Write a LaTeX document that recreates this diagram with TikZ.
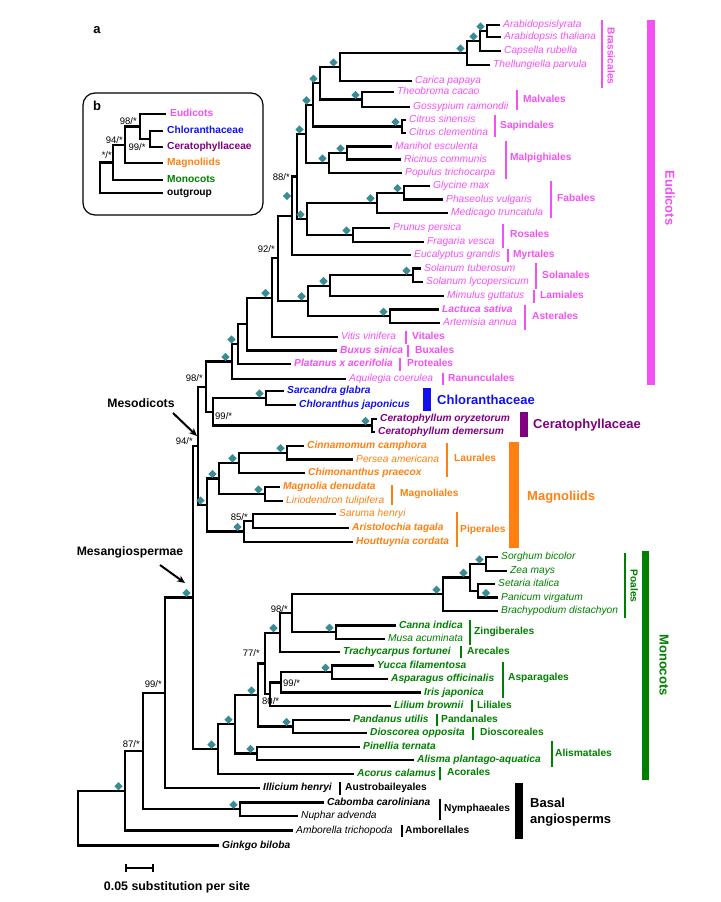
\documentclass[tikz,border=0pt]{standalone}
\usepackage{fontspec}
\setmainfont{Liberation Sans}
\usetikzlibrary{shapes.geometric,arrows.meta}
\definecolor{eud}{RGB}{245,80,245}
\definecolor{chl}{RGB}{16,16,240}
\definecolor{cer}{RGB}{128,0,128}
\definecolor{mag}{RGB}{255,128,16}
\definecolor{mon}{RGB}{0,128,0}
\definecolor{teal2}{RGB}{58,140,148}
\newcommand\mkleaf[6]{\coordinate (#1) at (#2,#3);\node[#4,text=#5] (#1t) at (#1) {#6};}
\newcommand\mkclade[5]{\coordinate (#1) at (#2,#3);\draw[br] (#4) -| (#1) |- (#5);}
\newcommand\mkorder[8]{\draw[obar,#7] (#2,#3) coordinate (#1a) -- (#2,#4) coordinate (#1b);\node[ordl,text=#7] (#1) at (#5,#6) {#8};}
\newcommand\mkdia[1]{\node[dia] (d#1) at ([shift={(-6.5,-4.5)}]#1) {};}
\begin{document}
\begin{tikzpicture}[x=1pt,y=-1pt,
  br/.style={line width=2.2pt},
  sp/.style={anchor=west,inner sep=0pt,xshift=3pt,text height=7pt,text depth=2pt,font=\fontsize{10.2}{12}\selectfont\itshape},
  spb/.style={sp,font=\fontsize{10.2}{12}\selectfont\bfseries\itshape},
  ordl/.style={anchor=west,inner sep=0pt,text height=7pt,text depth=2pt,font=\fontsize{10.2}{12}\selectfont\bfseries},
  obar/.style={line width=2.6pt},
  gbar/.style={line width=8pt},
  big/.style={anchor=west,inner sep=0pt,font=\fontsize{13}{15.5}\selectfont\bfseries},
  bs/.style={inner sep=0pt,font=\fontsize{9.5}{11}\selectfont},
  dia/.style={diamond,fill=teal2,minimum size=8.5pt,inner sep=0pt},
  inl/.style={anchor=west,inner sep=0pt,xshift=4pt,text height=7pt,text depth=2pt,font=\fontsize{10.2}{12}\selectfont\bfseries},
  arr/.style={line width=2pt,-{Stealth[length=8pt,width=7pt]}}
]
\useasboundingbox (0,0) rectangle (720,902);
% ---------- leaves ----------
\mkleaf{L1}{500}{25}{sp}{eud}{Arabidopsislyrata}
\mkleaf{L2}{501}{37}{sp}{eud}{Arabidopsis thaliana}
\mkleaf{L3}{501}{51}{sp}{eud}{Capsella rubella}
\mkleaf{L4}{490}{65}{sp}{eud}{Thellungiella parvula}
\mkleaf{L5}{412}{81}{sp}{eud}{Carica papaya}
\mkleaf{L6}{394}{92}{sp}{eud}{Theobroma cacao}
\mkleaf{L7}{410}{107}{sp}{eud}{Gossypium raimondii}
\mkleaf{L8}{406}{120}{sp}{eud}{Citrus sinensis}
\mkleaf{L9}{406}{133}{sp}{eud}{Citrus clementina}
\mkleaf{L10}{392}{146.5}{sp}{eud}{Manihot esculenta}
\mkleaf{L11}{401}{159.5}{sp}{eud}{Ricinus communis}
\mkleaf{L12}{402}{173}{sp}{eud}{Populus trichocarpa}
\mkleaf{L13}{430}{186}{sp}{eud}{Glycine max}
\mkleaf{L14}{443}{199.5}{sp}{eud}{Phaseolus vulgaris}
\mkleaf{L15}{448}{213}{sp}{eud}{Medicago truncatula}
\mkleaf{L16}{390}{228}{sp}{eud}{Prunus persica}
\mkleaf{L17}{424}{242}{sp}{eud}{Fragaria vesca}
\mkleaf{L18}{411}{255}{sp}{eud}{Eucalyptus grandis}
\mkleaf{L19}{421}{268.5}{sp}{eud}{Solanum tuberosum}
\mkleaf{L20}{423}{282}{sp}{eud}{Solanum lycopersicum}
\mkleaf{L21}{444}{296}{sp}{eud}{Mimulus guttatus}
\mkleaf{L22}{439}{309.5}{spb}{eud}{Lactuca sativa}
\mkleaf{L23}{440}{323}{sp}{eud}{Artemisia annua}
\mkleaf{L24}{338}{337}{sp}{eud}{Vitis vinifera}
\mkleaf{L25}{337}{350.5}{spb}{eud}{Buxus sinica}
\mkleaf{L26}{291}{364}{spb}{eud}{Platanus x acerifolia}
\mkleaf{L27}{346}{379}{sp}{eud}{Aquilegia coerulea}
\mkleaf{L28}{284}{391}{spb}{chl}{Sarcandra glabra}
\mkleaf{L29}{296}{405}{spb}{chl}{Chloranthus japonicus}
\mkleaf{L30}{377}{419}{spb}{cer}{Ceratophyllum oryzetorum}
\mkleaf{L31}{375}{432}{spb}{cer}{Ceratophyllum demersum}
\mkleaf{L32}{304}{446}{spb}{mag}{Cinnamomum camphora}
\mkleaf{L33}{353}{459.5}{sp}{mag}{Persea americana}
\mkleaf{L34}{305}{473}{spb}{mag}{Chimonanthus praecox}
\mkleaf{L35}{280}{487}{spb}{mag}{Magnolia denudata}
\mkleaf{L36}{283}{501}{sp}{mag}{Liriodendron tulipifera}
\mkleaf{L37}{336}{514}{sp}{mag}{Saruma henryi}
\mkleaf{L38}{349}{528}{spb}{mag}{Aristolochia tagala}
\mkleaf{L39}{353}{542}{spb}{mag}{Houttuynia cordata}
\mkleaf{L40}{498}{557}{sp}{mon}{Sorghum bicolor}
\mkleaf{L41}{507}{571}{sp}{mon}{Zea mays}
\mkleaf{L42}{495}{584}{sp}{mon}{Setaria italica}
\mkleaf{L43}{498}{597.5}{sp}{mon}{Panicum virgatum}
\mkleaf{L44}{498}{611}{sp}{mon}{Brachypodium distachyon}
\mkleaf{L45}{396}{625.5}{spb}{mon}{Canna indica}
\mkleaf{L46}{385}{639}{sp}{mon}{Musa acuminata}
\mkleaf{L47}{340}{652}{spb}{mon}{Trachycarpus fortunei}
\mkleaf{L48}{374}{665.5}{spb}{mon}{Yucca filamentosa}
\mkleaf{L49}{388}{679}{spb}{mon}{Asparagus officinalis}
\mkleaf{L50}{421}{692.5}{spb}{mon}{Iris japonica}
\mkleaf{L51}{391}{706}{spb}{mon}{Lilium brownii}
\mkleaf{L52}{350}{720}{spb}{mon}{Pandanus utilis}
\mkleaf{L53}{367}{733}{spb}{mon}{Dioscorea opposita}
\mkleaf{L54}{360}{747}{spb}{mon}{Pinellia ternata}
\mkleaf{L55}{414}{760}{spb}{mon}{Alisma plantago-aquatica}
\mkleaf{L56}{354}{774}{spb}{mon}{Acorus calamus}
\mkleaf{L57}{260}{788}{spb}{black}{Illicium henryi}
\mkleaf{L58}{324}{802.5}{spb}{black}{Cabomba caroliniana}
\mkleaf{L59}{298}{816}{sp}{black}{Nuphar advenda}
\mkleaf{L60}{293}{830.5}{sp}{black}{Amborella trichopoda}
\mkleaf{L61}{219}{845.5}{spb}{black}{Ginkgo biloba}
% ---------- clades ----------
\mkclade{AA}{487}{31}{L1}{L2}
\mkclade{Cap}{480}{41}{AA}{L3}
\mkclade{Bra}{467}{53}{Cap}{L4}
\mkclade{Brs}{340}{67}{Bra}{L5}
\mkclade{Mal}{362}{99.5}{L6}{L7}
\mkclade{BM}{320}{83.25}{Brs}{Mal}
\mkclade{Cit}{402}{126.5}{L8}{L9}
\mkclade{BMS}{313}{104.9}{BM}{Cit}
\mkclade{MR}{347}{153}{L10}{L11}
\mkclade{Mpg}{329}{163}{MR}{L12}
\mkclade{XA}{306}{133.95}{BMS}{Mpg}
\mkclade{GP}{404}{192.75}{L13}{L14}
\mkclade{Fab}{377}{202.9}{GP}{L15}
\mkclade{Ros}{353}{235}{L16}{L17}
\mkclade{fab}{307}{218.95}{Fab}{Ros}
\mkclade{RB}{297}{176.45}{XA}{fab}
\mkclade{RA}{292}{215.7}{RB}{L18}
\mkclade{Sol}{413}{275.25}{L19}{L20}
\mkclade{SM}{330}{285.6}{Sol}{L21}
\mkclade{Ast}{390}{316.25}{L22}{L23}
\mkclade{asr}{308}{300.9}{SM}{Ast}
\mkclade{core}{278}{258.3}{RA}{asr}
\mkclade{nNT}{272}{297.65}{core}{L24}
\mkclade{Bux}{247}{324.1}{nNT}{L25}
\mkclade{Pla}{238}{344.05}{Bux}{L26}
\mkclade{Eud}{232}{361.5}{Pla}{L27}
\mkclade{Chl}{266}{398}{L28}{L29}
\mkclade{Cer}{372}{425.5}{L30}{L31}
\mkclade{CC}{213}{411.75}{Chl}{Cer}
\mkclade{Meso}{206}{386.6}{Eud}{CC}
\mkclade{CP}{287}{452.75}{L32}{L33}
\mkclade{Lau}{239}{462.9}{CP}{L34}
\mkclade{Mag}{265}{494}{L35}{L36}
\mkclade{LM}{219}{478.45}{Lau}{Mag}
\mkclade{SA}{253}{521}{L37}{L38}
\mkclade{Pip}{244}{531.5}{SA}{L39}
\mkclade{Mgn}{207}{505}{LM}{Pip}
\mkclade{MM}{198}{445.8}{Meso}{Mgn}
\mkclade{SZ}{486}{564}{L40}{L41}
\mkclade{SP}{478}{590.75}{L42}{L43}
\mkclade{Pa}{470}{577.4}{SZ}{SP}
\mkclade{Poa}{443}{594.2}{Pa}{L44}
\mkclade{Zin}{336}{632.25}{L45}{L46}
\mkclade{PZ}{292}{613.2}{Poa}{Zin}
\mkclade{com}{280}{632.6}{PZ}{L47}
\mkclade{YA}{332}{672.25}{L48}{L49}
\mkclade{Asp}{281}{682.4}{YA}{L50}
\mkclade{AL}{270}{694.2}{Asp}{L51}
\mkclade{nSS}{265}{663.4}{com}{AL}
\mkclade{PD}{293}{726.5}{L52}{L53}
\mkclade{nTF}{258}{694.95}{nSS}{PD}
\mkclade{Ali}{257}{753.5}{L54}{L55}
\mkclade{nTT}{235}{724.2}{nTF}{Ali}
\mkclade{Mon}{218}{749.1}{nTT}{L56}
\mkclade{Mes}{193}{597.45}{MM}{Mon}
\mkclade{nOS}{165}{692.7}{Mes}{L57}
\mkclade{Nym}{240}{809.25}{L58}{L59}
\mkclade{nOF}{143}{751}{nOS}{Nym}
\mkclade{nOT}{125}{790.75}{nOF}{L60}
\mkclade{root}{78}{818.1}{nOT}{L61}
% ---------- diamonds ----------
\foreach \n in {AA,Cap,Bra,Brs,BM,BMS,Mal,Cit,MR,Mpg,XA,GP,Fab,fab,Ros,Sol,SM,Ast,asr,nNT,Pla,Eud,Chl,Cer,CP,Lau,Mag,LM,Pip,Mgn,SZ,Pa,Poa,Zin,com,YA,PD,Ali,nTT,Mon,nTF,Mes,Nym,nOT}{\mkdia{\n}}
\node[dia] (dRA) at (287,196) {};
\node[dia] (dSP) at (486,593) {};
% ---------- bootstrap ----------
\node[bs,anchor=east] (b1) at (290,177) {88/*};
\node[bs,anchor=east] (b2) at (275,249) {92/*};
\node[bs,anchor=east] (b3) at (203,378) {98/*};
\node[bs,anchor=west] (b4) at (215,416) {99/*};
\node[bs,anchor=east] (b5) at (193,441) {94/*};
\node[bs,anchor=east] (b6) at (248,517) {85/*};
\node[bs,anchor=east] (b7) at (288,609) {98/*};
\node[bs,anchor=east] (b8) at (260,653) {77/*};
\node[bs,anchor=west] (b9) at (283,683) {99/*};
\node[bs,anchor=west] (b10) at (262,701) {80/*};
\node[bs,anchor=east] (b11) at (162,684) {99/*};
\node[bs,anchor=east] (b12) at (140,744) {87/*};
% ---------- orders ----------
\mkorder{oMalv}{517}{90}{110}{523}{100}{eud}{Malvales}
\mkorder{oSap}{495}{115}{137}{500}{126}{eud}{Sapindales}
\mkorder{oMalp}{506}{141}{179}{510}{158}{eud}{Malpighiales}
\mkorder{oFab}{551}{181}{218}{557}{199}{eud}{Fabales}
\mkorder{oRos}{503}{224}{248}{510}{235}{eud}{Rosales}
\mkorder{oMyr}{508}{249}{262}{513}{255}{eud}{Myrtales}
\mkorder{oSol}{536}{263}{289}{542}{276}{eud}{Solanales}
\mkorder{oLam}{534}{290}{303}{540}{296}{eud}{Lamiales}
\mkorder{oAst}{525}{305}{330}{532}{317}{eud}{Asterales}
\mkorder{oVit}{406}{331}{344}{412}{337}{eud}{Vitales}
\mkorder{oBux}{408}{345}{357}{415}{351}{eud}{Buxales}
\mkorder{oPro}{400}{358}{371}{407}{364}{eud}{Proteales}
\mkorder{oRan}{443}{373}{385}{448}{379}{eud}{Ranunculales}
\mkorder{oLau}{447}{443}{477}{454}{459}{mag}{Laurales}
\mkorder{oMag}{392}{485}{505}{400}{494}{mag}{Magnoliales}
\mkorder{oPip}{457}{512}{547}{460}{530}{mag}{Piperales}
\mkorder{oZin}{470}{620}{645}{474}{632}{mon}{Zingiberales}
\mkorder{oAre}{461}{646}{658}{467}{652}{mon}{Arecales}
\mkorder{oAsp}{503}{662}{698}{508}{678}{mon}{Asparagales}
\mkorder{oLil}{472}{700}{712}{477}{706}{mon}{Liliales}
\mkorder{oPan}{437}{714}{726}{441}{720}{mon}{Pandanales}
\mkorder{oDio}{473}{727}{740}{480}{733}{mon}{Dioscoreales}
\mkorder{oAli}{552}{741}{767}{555}{754}{mon}{Alismatales}
\mkorder{oAco}{440}{767}{780}{447}{773}{mon}{Acorales}
\mkorder{oAus}{340}{782}{795}{345}{788}{black}{Austrobaileyales}
\mkorder{oNym}{440}{799}{820}{444}{809}{black}{Nymphaeales}
\mkorder{oAmb}{402}{825}{837}{405}{831}{black}{Amborellales}
\draw[obar,eud] (602,20) coordinate (oBraa) -- (602,88) coordinate (oBrab);
\node[ordl,text=eud,rotate=-90,anchor=center] (oBra) at (610,56) {Brassicales};
\draw[obar,mon] (625,553) coordinate (oPoaa) -- (625,618) coordinate (oPoab);
\node[ordl,text=mon,rotate=-90,anchor=center] (oPoa) at (633,586) {Poales};
% ---------- groups ----------
\draw[gbar,eud] (651,20) coordinate (gEa) -- (651,385) coordinate (gEb);
\node[big,text=eud,rotate=-90,anchor=center] (gE) at (670,198) {Eudicots};
\draw[gbar,chl] (427,388) coordinate (gCa) -- (427,411) coordinate (gCb);
\node[big,text=chl] (gC) at (437,400) {Chloranthaceae};
\draw[gbar,cer] (524,412) coordinate (gCea) -- (524,437) coordinate (gCeb);
\node[big,text=cer] (gCe) at (533,425) {Ceratophyllaceae};
\draw[line width=10pt,mag] (514,442) coordinate (gMa) -- (514,548) coordinate (gMb);
\node[big,text=mag] (gM) at (527,497) {Magnoliids};
\draw[line width=7.5pt,mon] (645.5,551) coordinate (gMoa) -- (645.5,780) coordinate (gMob);
\node[big,text=mon,rotate=-90,anchor=center] (gMo) at (664,665) {Monocots};
\draw[gbar,black] (519,783) coordinate (gBa) -- (519,839) coordinate (gBb);
\node[big,align=left] (gB) at (530,812) {Basal\\angiosperms};
% ---------- annotations ----------
\node[font=\fontsize{13}{15}\selectfont\bfseries,inner sep=0pt] (la) at (97,30) {a};
\node[font=\fontsize{12.2}{14}\selectfont\bfseries,inner sep=0pt] (meso) at (141,403) {Mesodicots};
\coordinate (ms) at (173,413); \coordinate (mt) at (197,436);
\draw[arr] (ms) -- (mt);
\node[font=\fontsize{12.2}{14}\selectfont\bfseries,inner sep=0pt] (mesa) at (130,552) {Mesangiospermae};
\coordinate (as) at (160,565); \coordinate (at) at (185,583);
\draw[arr] (as) -- (at);
% scale bar
\coordinate (sb1) at (126,868); \coordinate (sb2) at (153,868);
\draw[line width=1.5pt] (sb1) -- (sb2);
\draw[line width=1.5pt] ([yshift=-4pt]sb1) -- ([yshift=4pt]sb1);
\draw[line width=1.5pt] ([yshift=-4pt]sb2) -- ([yshift=4pt]sb2);
\node[font=\fontsize{12.4}{14}\selectfont\bfseries,inner sep=0pt] (sbl) at (177,887) {0.05 substitution per site};
% ---------- inset b ----------
\node[draw,line width=1.2pt,rounded corners=12pt,minimum width=180pt,minimum height=122pt,inner sep=0pt] (inset) at (173,154) {};
\node[font=\fontsize{13}{15}\selectfont\bfseries,inner sep=0pt] (lb) at (97,106) {b};
\coordinate (iE) at (166,114); \node[inl,text=eud] (iEt) at (iE) {Eudicots};
\coordinate (iC) at (163,131); \node[inl,text=chl] (iCt) at (iC) {Chloranthaceae};
\coordinate (iCe) at (163,147); \node[inl,text=cer] (iCet) at (iCe) {Ceratophyllaceae};
\coordinate (iMa) at (163,163); \node[inl,text=mag] (iMat) at (iMa) {Magnoliids};
\coordinate (iMn) at (163,180); \node[inl,text=mon] (iMnt) at (iMn) {Monocots};
\coordinate (iO) at (163,193); \node[inl,text=black] (iOt) at (iO) {outgroup};
\mkclade{iCC}{150}{139}{iC}{iCe}
\mkclade{iEC}{140}{126.5}{iE}{iCC}
\mkclade{iM}{125}{144.75}{iEC}{iMa}
\mkclade{iMo}{113}{162.4}{iM}{iMn}
\mkclade{iR}{100}{177.7}{iMo}{iO}
\node[bs,anchor=east] (ib1) at (137,121) {98/*};
\node[bs] (ib2) at (137,147) {99/*};
\node[bs,anchor=east] (ib3) at (123,140) {94/*};
\node[bs,anchor=east] (ib4) at (112,155) {*/*};
\end{tikzpicture}
\end{document}
